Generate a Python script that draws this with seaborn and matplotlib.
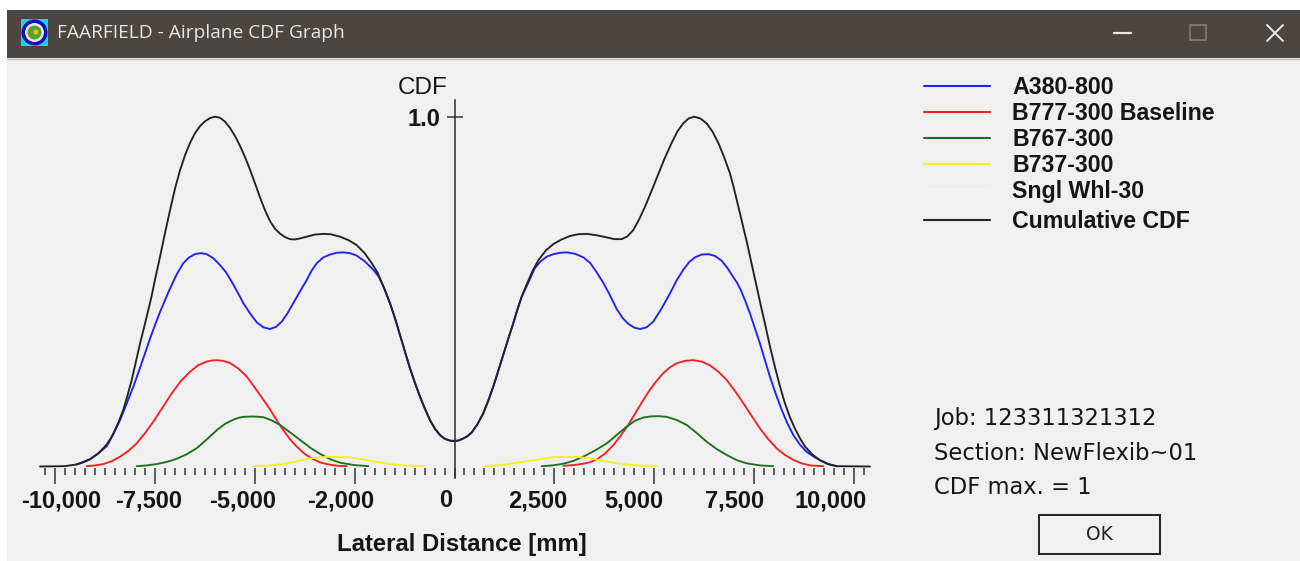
import numpy as np
import pandas as pd
import matplotlib
matplotlib.use("Agg")
import matplotlib.pyplot as plt
import seaborn as sns
from matplotlib.lines import Line2D
from matplotlib.patches import Rectangle, Circle
from matplotlib.transforms import ScaledTranslation
from matplotlib.ticker import FixedLocator, FixedFormatter

# ---- data (lateral distance mm, CDF) ----
a380_x = [-9455,-9120,-8910,-8705,-8540,-8370,-8205,-8040,-7890,-7745,-7620,-7495,-7370,-7245,-7120,-6955,-6790,-6640,-6495,-6350,-6200,-6035,-5870,-5725,-5575,-5430,-5285,-5120,-4950,-4785,-4620,-4470,-4325,-4180,-4035,-3870,-3700,-3575,-3450,-3280,-3115,-2950,-2785,-2620,-2450,-2240,-2030,-1900,-1780,-1615,-1490,-1365,-1240,-1115,-990,-865,-740,-615,-490,-365,-240,-115,0,90,200,315,430,575,720,845,970,1095,1220,1345,1470,1575,1680,1845,2000,2140,2310,2475,2640,2810,3020,3225,3395,3560,3725,3890,4060,4205,4350,4500,4645,4810,4975,5185,5395,5560,5725,5870,6020,6190,6355,6520,6690,6840,6980,7075,7165,7280,7395,7520,7645,7770,7895,8040,8190,8335,8480,8650,8815,8980,9150,9350,9565]
a380_y = [.006,.021,.038,.058,.092,.133,.180,.228,.276,.324,.366,.405,.442,.476,.509,.549,.581,.598,.607,.610,.607,.595,.576,.556,.528,.498,.467,.438,.412,.398,.393,.399,.414,.438,.467,.500,.533,.560,.581,.598,.606,.611,.612,.610,.603,.586,.562,.543,.515,.467,.424,.376,.328,.281,.239,.200,.165,.133,.108,.090,.079,.074,.073,.074,.079,.086,.097,.121,.152,.188,.228,.273,.319,.365,.409,.449,.485,.525,.565,.585,.600,.607,.611,.612,.608,.598,.582,.555,.525,.490,.450,.425,.408,.397,.393,.398,.414,.452,.495,.532,.562,.584,.598,.606,.607,.602,.588,.566,.541,.525,.505,.473,.438,.395,.352,.304,.257,.208,.162,.123,.090,.062,.042,.029,.018,.007,.001]

b777_left_x = [-9205,-9000,-8790,-8580,-8370,-8160,-7955,-7750,-7540,-7310,-7080,-6850,-6620,-6410,-6200,-6075,-5950,-5785,-5620,-5410,-5200,-4995,-4810,-4620,-4450,-4285,-4120,-3950,-3760,-3575,-3370,-3160,-2930,-2700]
b777_left_y = [.001,.003,.007,.015,.028,.045,.066,.095,.128,.168,.209,.244,.271,.290,.300,.303,.304,.302,.296,.280,.257,.225,.195,.164,.132,.104,.078,.057,.037,.023,.012,.006,.002,.001]
b777_right_x = [2725,2975,3225,3390,3560,3770,3975,4160,4350,4540,4725,4895,5060,5225,5390,5560,5770,5975,6185,6395,6605,6815,7025,7230,7440,7645,7855,8065,8270,8480,8690,8900,9230]
b777_right_y = [.002,.004,.008,.012,.020,.037,.061,.088,.119,.155,.190,.220,.245,.267,.283,.295,.302,.304,.300,.289,.271,.247,.215,.181,.144,.109,.078,.052,.033,.019,.009,.003,.001]

b767_left_x = [-7955,-7705,-7455,-7205,-6955,-6705,-6455,-6205,-5950,-5740,-5535,-5410,-5285,-5035,-4785,-4580,-4370,-4120,-3865,-3615,-3365,-3115,-2865,-2510,-2160]
b767_left_y = [.001,.003,.007,.013,.022,.035,.052,.077,.104,.122,.134,.139,.142,.143,.141,.132,.119,.098,.076,.054,.036,.021,.011,.004,.001]
b767_right_x = [2180,2450,2725,2975,3225,3520,3810,4060,4310,4520,4725,4895,5100,5310,5560,5810,6060,6310,6560,6815,7065,7315,7650,7980]
b767_right_y = [.001,.003,.008,.016,.028,.046,.066,.090,.114,.131,.140,.143,.144,.142,.133,.119,.096,.071,.050,.033,.018,.009,.003,.001]

b737_left_x = [-5035,-4660,-4285,-3950,-3615,-3285,-2950,-2620,-2285,-1950,-1615,-1200,-780]
b737_left_y = [.001,.003,.007,.015,.023,.027,.028,.026,.020,.013,.007,.003,.001]
b737_right_x = [765,1120,1470,1805,2140,2475,2810,3100,3390,3725,4060,4560,5060]
b737_right_y = [.001,.004,.009,.015,.021,.026,.028,.027,.023,.016,.009,.003,.001]

cum_x = [-10375,-9750,-9455,-9290,-9120,-8910,-8705,-8600,-8500,-8395,-8290,-8185,-8080,-7975,-7870,-7705,-7600,-7495,-7370,-7245,-7120,-6995,-6870,-6745,-6620,-6495,-6370,-6245,-6120,-5995,-5870,-5745,-5620,-5495,-5370,-5245,-5120,-4995,-4870,-4745,-4620,-4495,-4370,-4245,-4120,-3995,-3865,-3700,-3500,-3285,-3100,-2865,-2650,-2450,-2250,-2070,-1920,-1780,-1615,-1490,-1365,-1240,-1115,-990,-865,-740,-615,-490,-365,-240,-115,0,90,200,315,430,575,720,845,970,1095,1220,1345,1470,1575,1680,1805,1950,2100,2290,2475,2680,2890,3100,3310,3560,3810,4000,4185,4330,4475,4620,4770,4915,5060,5250,5435,5580,5725,5860,6000,6155,6310,6455,6605,6750,6895,7000,7105,7210,7315,7440,7565,7670,7770,7895,8020,8145,8270,8395,8520,8650,8775,8960,9150,9350,9565,10400]
cum_y = [0,.001,.006,.012,.021,.038,.063,.081,.104,.131,.162,.203,.247,.299,.352,.428,.478,.535,.600,.668,.733,.795,.847,.890,.925,.953,.973,.987,.996,1.0,.997,.986,.968,.945,.917,.885,.849,.810,.770,.733,.702,.680,.666,.656,.650,.649,.652,.657,.663,.665,.664,.657,.647,.633,.610,.581,.553,.515,.467,.424,.376,.328,.281,.239,.200,.165,.133,.108,.090,.079,.074,.073,.074,.079,.086,.097,.121,.152,.188,.228,.273,.319,.365,.409,.449,.485,.520,.558,.590,.618,.636,.649,.659,.664,.665,.661,.655,.650,.650,.658,.676,.706,.743,.783,.824,.878,.925,.958,.981,.995,1.0,.995,.981,.958,.925,.884,.838,.793,.743,.694,.643,.578,.514,.459,.409,.344,.285,.230,.181,.141,.109,.080,.057,.034,.018,.007,.001,0]

series_names = ["A380-800", "B777-300 Baseline", "B767-300", "B737-300", "Sngl Whl-30", "Cumulative CDF"]
series_colors = ["#2222ee", "#f02222", "#1f6f1f", "#f2f21e", "#f3f3f3", "#222222"]

tick_values = [-10000, -7500, -5000, -2500, 0, 2500, 5000, 7500, 10000]
tick_labels = ["-10,000", "-7,500", "-5,000", "-2,000", "0", "2,500", "5,000", "7,500", "10,000"]
job_lines = ["Job: 123311321312", "Section: NewFlexib~01", "CDF max. = 1"]

def part(name, lobe, x, y):
    return pd.DataFrame({"series": name, "lobe": lobe, "x": x, "y": y})

df = pd.concat([
    part(series_names[0], 0, a380_x, a380_y),
    part(series_names[1], 0, b777_left_x, b777_left_y),
    part(series_names[1], 1, b777_right_x, b777_right_y),
    part(series_names[2], 0, b767_left_x, b767_left_y),
    part(series_names[2], 1, b767_right_x, b767_right_y),
    part(series_names[3], 0, b737_left_x, b737_left_y),
    part(series_names[3], 1, b737_right_x, b737_right_y),
    part(series_names[5], 0, cum_x, cum_y),
], ignore_index=True)

sns.set_theme(style="white")
plt.rcParams["font.family"] = ["Liberation Sans", "DejaVu Sans"]

W, H = 1300, 561
fig = plt.figure(figsize=(W / 100, H / 100), dpi=100, facecolor="white")

# window chrome, in pixel coordinates
chrome = fig.add_axes([0, 0, 1, 1], zorder=0)
chrome.set_xlim(0, W); chrome.set_ylim(H, 0); chrome.axis("off")
chrome.add_patch(Rectangle((7, 10), W - 7, H - 10, fc="#f0f0f0", ec="none"))
chrome.add_patch(Rectangle((7, 10), W - 7, 48, fc="#4b4641", ec="none"))
chrome.plot([7, W], [58.5, 58.5], color="#b5b0a8", lw=0.8)
chrome.add_patch(Rectangle((21, 19), 27, 27, fc="#19d6e6", ec="none"))
chrome.add_patch(Circle((34.5, 32.5), 13, fc="#1010b0", ec="none"))
chrome.add_patch(Circle((34.5, 32.5), 9.5, fc="#e8e8e8", ec="none"))
chrome.add_patch(Circle((34.5, 32.5), 7, fc="#5aa02c", ec="none"))
chrome.add_patch(Circle((36, 32), 2.5, fc="#e8c020", ec="none"))
chrome.text(57, 33, "FAARFIELD - Airplane CDF Graph", color="#e6e6e6", fontsize=13.8,
            family=["Open Sans", "DejaVu Sans"], va="center", ha="left")
chrome.plot([1114, 1131], [33, 33], color="#e8e8e8", lw=1.6)
chrome.add_patch(Rectangle((1190, 25), 16, 15, fc="none", ec="#7c7873", lw=1.3))
chrome.plot([1267, 1283], [25, 41], color="#eeeeee", lw=1.4)
chrome.plot([1267, 1283], [41, 25], color="#eeeeee", lw=1.4)
chrome.add_patch(Rectangle((1039, 515), 121, 39, fc="#f0f0f0", ec="#222222", lw=1.4))
chrome.text(1099, 535, "OK", color="#222222", fontsize=13.5, family=["DejaVu Sans"],
            va="center", ha="center")

# chart, with scales aligned to the window
ax = fig.add_axes([0, 0, 1, 1], zorder=1)
ax.patch.set_alpha(0)
px_x = 0.03995
px_y = 349.8
ax.set_xlim(-454.5 / px_x, (W - 454.5) / px_x)
ax.set_ylim(-(H - 466.5) / px_y, 466.5 / px_y)

palette = dict(zip(series_names, series_colors))
sns.lineplot(data=df, x="x", y="y", hue="series", hue_order=series_names, palette=palette,
             units="lobe", estimator=None, sort=False, legend=False, lw=1.35, ax=ax)

for s in ["top", "right", "bottom"]:
    ax.spines[s].set_visible(False)
ax.spines["bottom"].set_position(("data", -0.003))
ax.spines["left"].set_position(("data", 0))
ax.spines["left"].set_bounds(-0.033, 1.048)
ax.spines["left"].set_color("#333333")
ax.spines["left"].set_linewidth(1.15)

FONT = "#151515"
ax.xaxis.set_major_locator(FixedLocator(tick_values))
ax.xaxis.set_major_formatter(FixedFormatter(tick_labels))
ax.xaxis.set_minor_locator(FixedLocator(np.arange(-10250, 10251, 250)))
ax.tick_params(axis="x", which="major", bottom=True, length=11.2, width=1.1, color="#333333",
               pad=4.5, labelsize=17, labelcolor=FONT)
ax.tick_params(axis="x", which="minor", bottom=True, length=5.2, width=1.1, color="#333333")
for lab in ax.get_xticklabels():
    lab.set_fontweight("bold")
offsets = [6, -6.7, -12, -13.7, -9.3, -16.5, -20, -20, -23.5]
for lab, dx in zip(ax.get_xticklabels(), offsets):
    lab.set_transform(lab.get_transform() + ScaledTranslation(dx / 100, 0, fig.dpi_scale_trans))
ax.xaxis.get_major_ticks()[4].tick1line.set_markersize(7.5)

ax.set_yticks([1.0], ["1.0"])
ax.tick_params(axis="y", which="major", left=True, direction="inout", length=11, width=1.1,
               color="#333333", pad=0, labelsize=17, labelcolor=FONT)
for lab in ax.get_yticklabels():
    lab.set_fontweight("bold")
    lab.set_transform(lab.get_transform() + ScaledTranslation(-6 / 100, 0, fig.dpi_scale_trans))

ax.set_xlabel("Lateral Distance [mm]", fontsize=17.2, fontweight="bold", color=FONT)
ax.xaxis.set_label_coords(462 / W, 1 - 544 / H, transform=ax.transAxes)
ax.xaxis.label.set_va("center")
ax.set_ylabel("")
ax.text(423 / W, 1 - 88 / H, "CDF", transform=ax.transAxes, ha="center", va="center",
        fontsize=17.5, color=FONT)

# legend
handles = [Line2D([], [], color=c, lw=1.5) for c in series_colors]
lsize = 16.7
lpx = lsize * 100 / 72
prop = {"size": lsize, "weight": "bold"}
leg1 = ax.legend(handles[:5], series_names[:5], loc="upper left", frameon=False,
                 bbox_to_anchor=(915 / W, 1 - 67 / H), bbox_transform=ax.transAxes,
                 prop=prop, handlelength=66 / lpx, handletextpad=0.95,
                 labelspacing=0.13, borderaxespad=0, labelcolor=FONT, borderpad=0.4)
ax.add_artist(leg1)
leg2 = ax.legend(handles[5:], series_names[5:], loc="upper left", frameon=False,
                 bbox_to_anchor=(915 / W, 1 - 200.5 / H), bbox_transform=ax.transAxes,
                 prop=prop, handlelength=66 / lpx, handletextpad=0.95,
                 borderaxespad=0, labelcolor=FONT, borderpad=0.4)

for txt, yy in zip(job_lines, [418, 453, 488]):
    ax.text(934 / W, 1 - yy / H, txt, transform=ax.transAxes, ha="left", va="center",
            fontsize=16.3, color=FONT, family=["DejaVu Sans"])

fig.savefig("out.png", dpi=100)
